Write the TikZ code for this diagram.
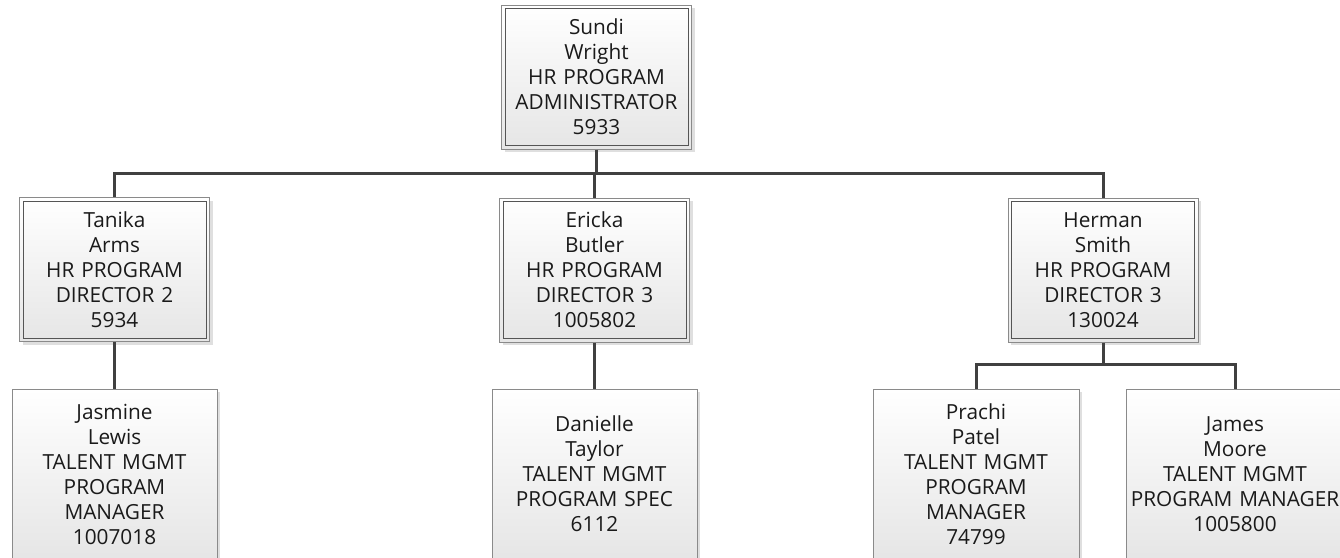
\documentclass[tikz,border=0pt]{standalone}
\usepackage{fontspec}
\setmainfont{Open Sans}
\usetikzlibrary{shadows}
\definecolor{ln}{HTML}{404040}
\definecolor{bd}{HTML}{8A8A8A}
\definecolor{ib}{HTML}{555555}
\definecolor{txt}{HTML}{1A1A1A}
\tikzset{
  base/.style={draw=bd, line width=1pt, top color=white, bottom color=gray!20,
    text=txt, align=center, inner sep=0pt,
    font=\fontsize{20.8}{25}\selectfont,
    drop shadow={shadow xshift=3pt, shadow yshift=-3pt, fill=gray!25, opacity=1}},
  upper/.style={base, text width=190pt, minimum height=144pt},
  lower/.style={base, minimum height=170pt},
  innerbox/.style={draw=ib, line width=1pt},
  conn/.style={draw=ln, line width=3pt}
}
\begin{document}
\begin{tikzpicture}[x=1pt,y=-1pt]
\useasboundingbox (0,0) rectangle (1340,557);
\clip (0,0) rectangle (1340,557);
\fill[white] (0,0) rectangle (1340,557);

% nodes
\node[upper] (sw) at (596.5,77) {Sundi\\Wright\\HR PROGRAM\\ADMINISTRATOR\\5933};
\node[upper] (ta) at (114.5,269.5) {Tanika\\Arms\\HR PROGRAM\\DIRECTOR 2\\5934};
\node[upper] (eb) at (594.5,270) {Ericka\\Butler\\HR PROGRAM\\DIRECTOR 3\\1005802};
\node[upper] (hs) at (1103,270) {Herman\\Smith\\HR PROGRAM\\DIRECTOR 3\\130024};

\node[lower, text width=205pt] (jl) at (114.5,474) {Jasmine\\Lewis\\TALENT MGMT\\PROGRAM\\MANAGER\\1007018};
\node[lower, text width=205pt] (dt) at (594.5,474) {Danielle\\Taylor\\TALENT MGMT\\PROGRAM SPEC\\6112};
\node[lower, text width=206pt] (pp) at (976,474) {Prachi\\Patel\\TALENT MGMT\\PROGRAM\\MANAGER\\74799};
\node[lower, text width=218pt] (jm) at (1235,474) {James\\Moore\\TALENT MGMT\\PROGRAM MANAGER\\1005800};

\foreach \n in {sw,ta,eb,hs}
  \draw[innerbox] ([shift={(4pt,-4pt)}]\n.north west) rectangle ([shift={(-4pt,4pt)}]\n.south east);

% connectors
\coordinate (b1) at (596.5,173);
\coordinate (b2) at (1103,364);
\draw[conn] (sw.south) -- (b1);
\draw[conn] (b1) -| (ta.north);
\draw[conn] (b1) -| (hs.north);
\draw[conn] (eb.north) |- (b1);
\draw[conn] (ta.south) -- (jl.north);
\draw[conn] (eb.south) -- (dt.north);
\draw[conn] (hs.south) -- (b2);
\draw[conn] (b2) -| (pp.north);
\draw[conn] (b2) -| (jm.north);
\end{tikzpicture}
\end{document}
